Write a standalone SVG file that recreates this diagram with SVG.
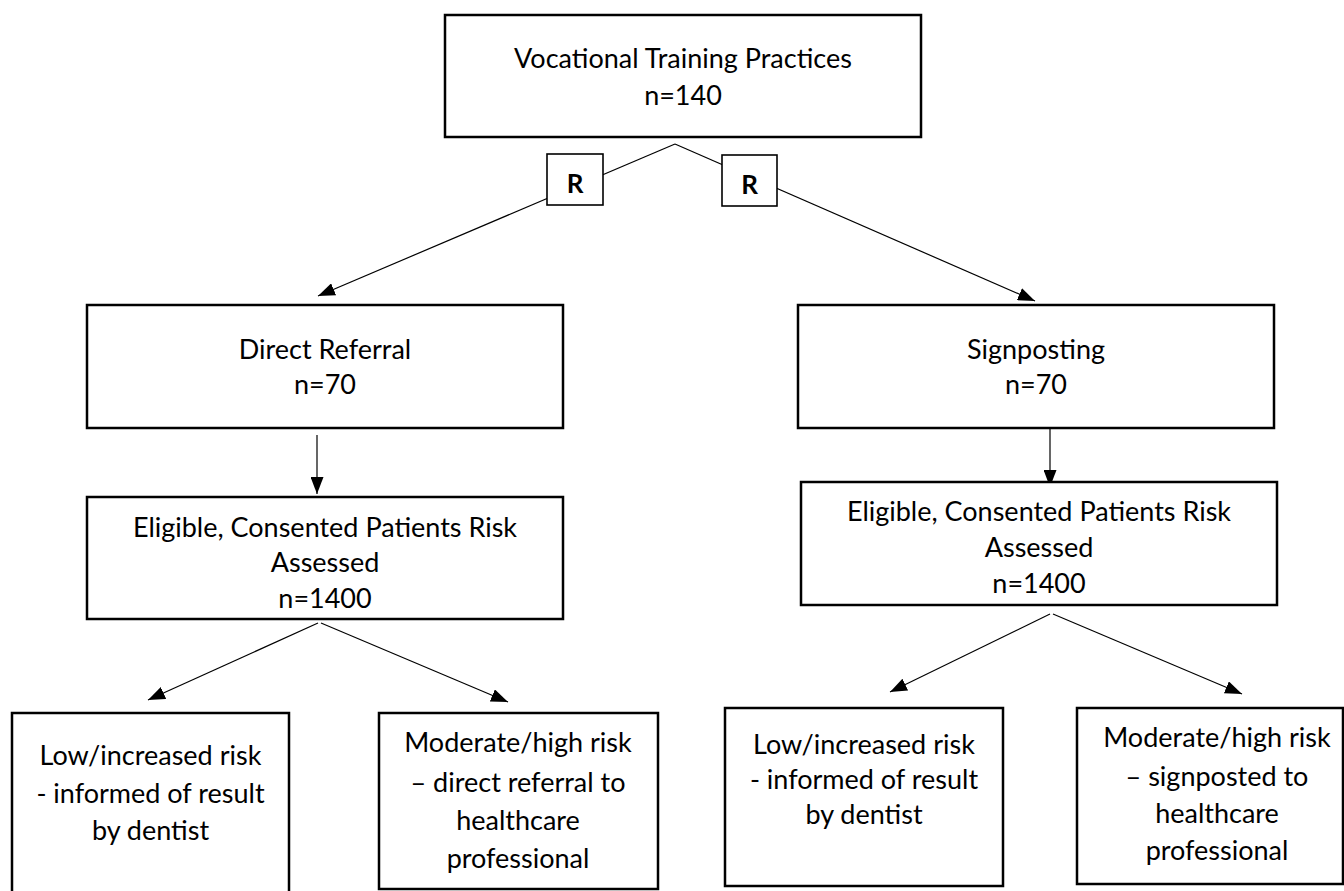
<svg xmlns="http://www.w3.org/2000/svg" width="1344" height="891" viewBox="0 0 1344 891">
<style>
.box{fill:#fff;stroke:#000;stroke-width:2.5}
.rbox{fill:#fff;stroke:#000;stroke-width:1.6}
.t{font-family:Lato,"Liberation Sans",sans-serif;font-size:27px;fill:#000;text-anchor:middle}
.r{font-family:Lato,"Liberation Sans",sans-serif;font-size:26px;font-weight:bold;fill:#000;text-anchor:middle}
.c{stroke:#000;stroke-width:1.2;fill:none}
</style>
<defs>
<marker id="ah" markerUnits="userSpaceOnUse" markerWidth="17" markerHeight="13" refX="17" refY="6.5" orient="auto">
<path d="M0,0 L17,6.5 L0,13 z" fill="#000"/>
</marker>
</defs>
<g id="connectors">
<line class="c" x1="675" y1="144" x2="318" y2="296" marker-end="url(#ah)"/>
<line class="c" x1="675" y1="144" x2="1035" y2="301" marker-end="url(#ah)"/>
<line class="c" x1="317" y1="435" x2="317" y2="494" marker-end="url(#ah)"/>
<line class="c" x1="1050" y1="428" x2="1050" y2="487" marker-end="url(#ah)"/>
<line class="c" x1="318" y1="623" x2="148" y2="700" marker-end="url(#ah)"/>
<line class="c" x1="321" y1="623" x2="508" y2="702" marker-end="url(#ah)"/>
<line class="c" x1="1050" y1="614" x2="890" y2="692" marker-end="url(#ah)"/>
<line class="c" x1="1053" y1="614" x2="1242" y2="694" marker-end="url(#ah)"/>
</g>
<g id="r-left">
<rect class="rbox" x="547" y="154" width="56" height="51"/>
<text class="r" x="575" y="193">R</text>
</g>
<g id="r-right">
<rect class="rbox" x="722" y="155" width="55" height="51"/>
<text class="r" x="749.5" y="194">R</text>
</g>
<g id="vtp">
<rect class="box" x="445" y="15" width="476" height="122"/>
<text class="t" x="683" y="68">Vocational Training Practices</text>
<text class="t" x="683" y="105">n=140</text>
</g>
<g id="direct-referral">
<rect class="box" x="87" y="305" width="476" height="123"/>
<text class="t" x="325" y="359">Direct Referral</text>
<text class="t" x="325" y="394">n=70</text>
</g>
<g id="signposting">
<rect class="box" x="798" y="305" width="476" height="123"/>
<text class="t" x="1036" y="359">Signposting</text>
<text class="t" x="1036" y="394">n=70</text>
</g>
<g id="eligible-left">
<rect class="box" x="87" y="497" width="476" height="122"/>
<text class="t" x="325" y="537">Eligible, Consented Patients Risk</text>
<text class="t" x="325" y="572">Assessed</text>
<text class="t" x="325" y="608">n=1400</text>
</g>
<g id="eligible-right">
<rect class="box" x="801" y="482" width="476" height="123"/>
<text class="t" x="1039" y="521">Eligible, Consented Patients Risk</text>
<text class="t" x="1039" y="557">Assessed</text>
<text class="t" x="1039" y="593">n=1400</text>
</g>
<g id="low-left">
<rect class="box" x="12" y="713" width="277" height="190"/>
<text class="t" x="150.5" y="765">Low/increased risk</text>
<text class="t" x="150.5" y="803">- informed of result</text>
<text class="t" x="150.5" y="840">by dentist</text>
</g>
<g id="mod-left">
<rect class="box" x="379" y="713" width="279" height="176"/>
<text class="t" x="518" y="752">Moderate/high risk</text>
<text class="t" x="518" y="792">– direct referral to</text>
<text class="t" x="518" y="830">healthcare</text>
<text class="t" x="518" y="868">professional</text>
</g>
<g id="low-right">
<rect class="box" x="725" y="708" width="278" height="178"/>
<text class="t" x="864" y="754">Low/increased risk</text>
<text class="t" x="864" y="789">- informed of result</text>
<text class="t" x="864" y="824">by dentist</text>
</g>
<g id="mod-right">
<rect class="box" x="1077" y="708" width="266" height="176"/>
<text class="t" x="1217" y="747">Moderate/high risk</text>
<text class="t" x="1217" y="786">– signposted to</text>
<text class="t" x="1217" y="823">healthcare</text>
<text class="t" x="1217" y="860">professional</text>
</g>
</svg>
